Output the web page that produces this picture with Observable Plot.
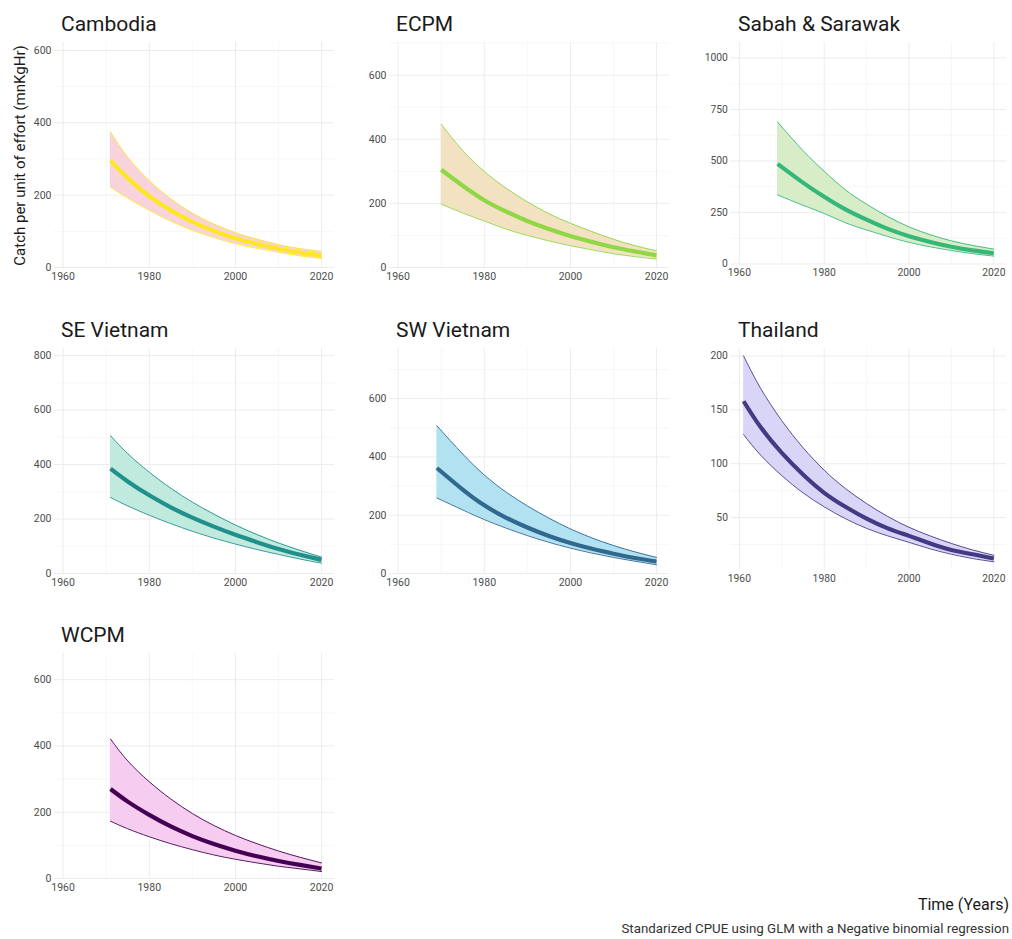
<!DOCTYPE html>
<html>
<head>
<meta charset="utf-8">
<script src="https://cdn.jsdelivr.net/npm/d3@7"></script>
<script src="https://cdn.jsdelivr.net/npm/@observablehq/plot@0.6"></script>
<style>
  html, body { margin: 0; padding: 0; background: #ffffff; }
  #wrap { position: relative; width: 1012px; height: 939px; overflow: hidden; background: #fff; font-family: Roboto, "Noto Sans", sans-serif; }
  .panel { position: absolute; }
  #overlay { position: absolute; left: 0; top: 0; pointer-events: none; }
</style>
</head>
<body>
<div id="wrap"></div>
<script>
// ---------- Data ----------
const regions = ["Cambodia", "ECPM", "Sabah & Sarawak", "SE Vietnam", "SW Vietnam", "Thailand", "WCPM"];

const cambodiaYears = [1971, 1975, 1980, 1985, 1990, 1995, 2000, 2005, 2010, 2015, 2020];
const cambodiaFit   = [295, 247, 197, 158, 126, 101, 81, 65, 52, 41, 33];
const cambodiaUpper = [375, 305, 240, 190, 150, 120, 96, 78, 63, 52, 44];
const cambodiaLower = [222, 192, 158, 128, 103, 83, 66, 53, 42, 32, 25];

const ecpmYears = [1970, 1975, 1980, 1985, 1990, 1995, 2000, 2005, 2010, 2015, 2020];
const ecpmFit   = [305, 255, 210, 175, 145, 120, 98, 80, 63, 50, 38];
const ecpmUpper = [447, 365, 300, 248, 205, 168, 138, 112, 88, 68, 52];
const ecpmLower = [198, 170, 145, 120, 100, 83, 68, 55, 43, 34, 26];

const sabahYears = [1969, 1975, 1980, 1985, 1990, 1995, 2000, 2005, 2010, 2015, 2020];
const sabahFit   = [486, 395, 326, 265, 215, 170, 135, 107, 84, 66, 52];
const sabahUpper = [689, 550, 450, 360, 290, 230, 180, 142, 112, 90, 72];
const sabahLower = [335, 285, 245, 200, 165, 133, 105, 83, 65, 50, 38];

const seVietnamYears = [1971, 1975, 1980, 1985, 1990, 1995, 2000, 2005, 2010, 2015, 2020];
const seVietnamFit   = [385, 338, 287, 243, 205, 172, 142, 115, 90, 69, 50];
const seVietnamUpper = [506, 440, 372, 313, 262, 218, 178, 143, 112, 85, 60];
const seVietnamLower = [279, 248, 214, 183, 155, 130, 108, 88, 70, 53, 38];

const swVietnamYears = [1969, 1975, 1980, 1985, 1990, 1995, 2000, 2005, 2010, 2015, 2020];
const swVietnamFit   = [362, 288, 234, 192, 158, 129, 105, 85, 68, 53, 41];
const swVietnamUpper = [507, 410, 338, 280, 232, 190, 153, 122, 96, 74, 55];
const swVietnamLower = [259, 218, 185, 156, 130, 107, 87, 70, 55, 42, 30];

const thailandYears = [1961, 1965, 1970, 1975, 1980, 1985, 1990, 1995, 2000, 2005, 2010, 2015, 2020];
const thailandFit   = [158, 134, 110, 90, 73, 60, 49, 40, 33, 26, 20, 16, 12];
const thailandUpper = [200, 170, 140, 115, 94, 77, 63, 51, 41, 33, 26, 20, 15];
const thailandLower = [127, 108, 89, 73, 60, 49, 40, 33, 27, 21, 16, 12, 9];

const wcpmYears = [1971, 1975, 1980, 1985, 1990, 1995, 2000, 2005, 2010, 2015, 2020];
const wcpmFit   = [270, 232, 192, 157, 128, 104, 84, 67, 53, 41, 30];
const wcpmUpper = [421, 355, 292, 240, 196, 160, 130, 105, 83, 64, 47];
const wcpmLower = [173, 150, 126, 105, 87, 71, 58, 47, 37, 29, 21];

const xTicks = [1960, 1980, 2000, 2020];
const xMinor = [1970, 1990, 2010];

const yTicksList = [
  [0, 200, 400, 600],
  [0, 200, 400, 600],
  [0, 250, 500, 750, 1000],
  [0, 200, 400, 600, 800],
  [0, 200, 400, 600],
  [50, 100, 150, 200],
  [0, 200, 400, 600]
];
const yMinorList = [
  [100, 300, 500],
  [100, 300, 500, 700],
  [125, 375, 625, 875],
  [100, 300, 500, 700],
  [100, 300, 500, 700],
  [25, 75, 125, 175],
  [100, 300, 500]
];
const yDomainList = [
  [0, 622], [0, 702], [0, 1075], [0, 826], [0, 772], [1.4, 207], [0, 679]
];

const lineColors = ["#FDE725", "#8FD744", "#35B779", "#21908C", "#31688E", "#443A83", "#440154"];
const fillColors = ["#F8D3DC", "#F2E2C2", "#D6EDC8", "#BFEADD", "#B2E2F2", "#D9D5F7", "#F6CCF0"];

const yearsList = [cambodiaYears, ecpmYears, sabahYears, seVietnamYears, swVietnamYears, thailandYears, wcpmYears];
const fitList   = [cambodiaFit, ecpmFit, sabahFit, seVietnamFit, swVietnamFit, thailandFit, wcpmFit];
const upperList = [cambodiaUpper, ecpmUpper, sabahUpper, seVietnamUpper, swVietnamUpper, thailandUpper, wcpmUpper];
const lowerList = [cambodiaLower, ecpmLower, sabahLower, seVietnamLower, swVietnamLower, thailandLower, wcpmLower];

// ---------- Layout ----------
const ML = 40, MR = 6, MT = 4, MB = 24;
const W = 280, H = 225;
const colLefts = [54, 389, 731];
const rowTops = [42, 348, 653];

const wrap = document.getElementById("wrap");

regions.forEach((name, i) => {
  const col = i % 3, row = Math.floor(i / 3);
  const data = yearsList[i].map((yr, j) => ({
    year: yr, fit: fitList[i][j], lo: lowerList[i][j], hi: upperList[i][j]
  }));
  const chart = Plot.plot({
    width: ML + W + MR,
    height: MT + H + MB,
    marginLeft: ML, marginRight: MR, marginTop: MT, marginBottom: MB,
    style: { fontFamily: "Roboto, sans-serif", fontSize: "10.5px", color: "#4d4d4d", background: "transparent", overflow: "visible" },
    x: { domain: [1958, 2023], ticks: xTicks, tickFormat: d => String(d), tickSize: 0, tickPadding: 5, label: null },
    y: { domain: yDomainList[i], ticks: yTicksList[i], tickFormat: d => String(d), tickSize: 0, tickPadding: 3, label: null },
    marks: [
      Plot.ruleX(xMinor, { stroke: "#f2f2f2", strokeWidth: 0.6 }),
      Plot.ruleY(yMinorList[i], { stroke: "#f2f2f2", strokeWidth: 0.6 }),
      Plot.ruleX(xTicks, { stroke: "#ececec", strokeWidth: 1 }),
      Plot.ruleY(yTicksList[i], { stroke: "#ececec", strokeWidth: 1 }),
      Plot.areaY(data, { x: "year", y1: "lo", y2: "hi", fill: fillColors[i], fillOpacity: 1, curve: "natural" }),
      Plot.line(data, { x: "year", y: "hi", stroke: lineColors[i], strokeWidth: 0.9, curve: "natural" }),
      Plot.line(data, { x: "year", y: "lo", stroke: lineColors[i], strokeWidth: 0.9, curve: "natural" }),
      Plot.line(data, { x: "year", y: "fit", stroke: lineColors[i], strokeWidth: 4.2, strokeLinecap: "butt", curve: "natural" })
    ]
  });
  const div = document.createElement("div");
  div.className = "panel";
  div.style.left = (colLefts[col] - ML) + "px";
  div.style.top = (rowTops[row] - MT) + "px";
  div.appendChild(chart);
  wrap.appendChild(div);
});

// ---------- Titles, axis title, caption ----------
const overlay = d3.select(wrap).append("svg")
  .attr("id", "overlay")
  .attr("width", 1012).attr("height", 939)
  .style("font-family", "Roboto, sans-serif");

regions.forEach((name, i) => {
  const col = i % 3, row = Math.floor(i / 3);
  overlay.append("text")
    .attr("x", colLefts[col] + 7)
    .attr("y", rowTops[row] - 11)
    .attr("font-size", 21)
    .attr("fill", "#1a1a1a")
    .text(name);
});

overlay.append("text")
  .attr("transform", "translate(21," + (rowTops[0] + H / 2 + 1) + ") rotate(-90)")
  .attr("text-anchor", "middle")
  .attr("dominant-baseline", "middle")
  .attr("font-size", 15)
  .attr("fill", "#1a1a1a")
  .text("Catch per unit of effort (mnKgHr)");

overlay.append("text")
  .attr("x", 1009).attr("y", 910)
  .attr("text-anchor", "end")
  .attr("font-size", 16)
  .attr("fill", "#1a1a1a")
  .text("Time (Years)");

overlay.append("text")
  .attr("x", 1009).attr("y", 933)
  .attr("text-anchor", "end")
  .attr("font-size", 13.3)
  .attr("fill", "#333333")
  .text("Standarized CPUE using GLM with a Negative binomial regression");
</script>
</body>
</html>
